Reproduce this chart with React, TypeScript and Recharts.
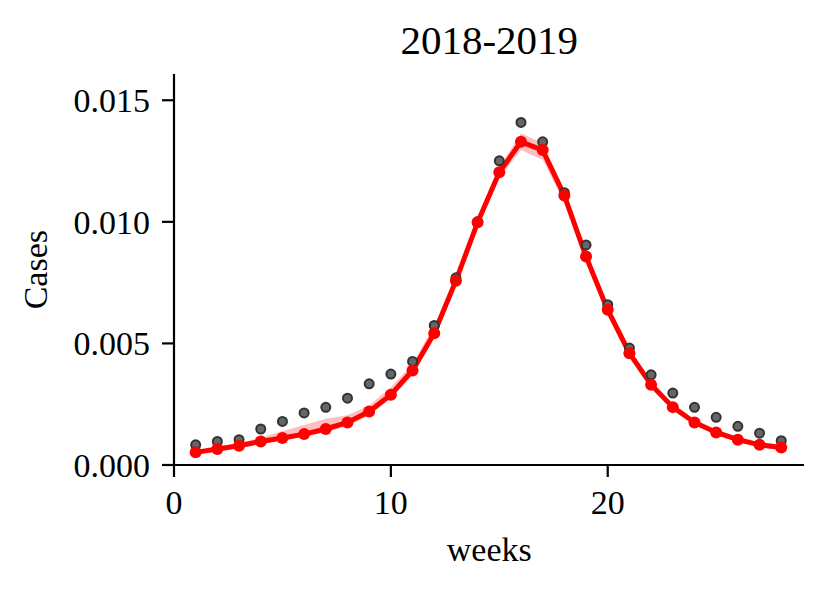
import React from 'react';
import { ComposedChart, Line, Area, XAxis, YAxis } from 'recharts';

const weeks = [1, 2, 3, 4, 5, 6, 7, 8, 9, 10, 11, 12, 13, 14, 15, 16, 17, 18, 19, 20, 21, 22, 23, 24, 25, 26, 27, 28];

const observed = [
  0.00083, 0.00097, 0.00104, 0.00148, 0.00179, 0.00214, 0.00237, 0.00275, 0.00334, 0.00374,
  0.00426, 0.00574, 0.0077, 0.0100, 0.01251, 0.01409, 0.01329, 0.0112, 0.00905, 0.00659,
  0.00481, 0.00371, 0.00296, 0.00237, 0.00196, 0.00159, 0.00131, 0.00100,
];

const model = [
  0.00052, 0.00066, 0.00079, 0.00097, 0.00111, 0.00127, 0.00148, 0.00175, 0.0022, 0.00289,
  0.00389, 0.00542, 0.00758, 0.00998, 0.01204, 0.01329, 0.01295, 0.01108, 0.00857, 0.00638,
  0.0046, 0.0033, 0.00238, 0.00175, 0.00134, 0.00104, 0.00083, 0.00072,
];

const bandLower = [
  0.00044, 0.00058, 0.0007, 0.00088, 0.001, 0.00115, 0.00135, 0.0016, 0.00205, 0.00272,
  0.0037, 0.0052, 0.00735, 0.00975, 0.0118, 0.01295, 0.01254, 0.0108, 0.00835, 0.0062,
  0.00445, 0.00318, 0.00228, 0.00165, 0.00125, 0.00096, 0.00076, 0.00065,
];

const bandUpper = [
  0.0006, 0.00074, 0.0009, 0.00112, 0.0014, 0.00165, 0.0019, 0.00205, 0.00245, 0.0032,
  0.00415, 0.00575, 0.0078, 0.0102, 0.01225, 0.01364, 0.01323, 0.0113, 0.0088, 0.0066,
  0.00478, 0.00345, 0.00252, 0.00188, 0.00146, 0.00116, 0.00094, 0.00082,
];

const xTicks = [0, 10, 20];
const yTicks = [0, 0.005, 0.01, 0.015];

const title = '2018-2019';
const xLabel = 'weeks';
const yLabel = 'Cases';

const data = weeks.map((w, i) => ({
  week: w,
  observed: observed[i],
  model: model[i],
  band: [bandLower[i], bandUpper[i]],
}));

const FONT = '"Liberation Serif", "Times New Roman", serif';

export default function App() {
  const tickStyle = { fill: '#000', fontSize: 34, fontFamily: FONT };
  const axisStroke = { stroke: '#000', strokeWidth: 2.2 };
  return (
    <div style={{ position: 'absolute', left: 0, top: 0, width: 829, height: 592, background: '#fff' }}>
      <ComposedChart width={829} height={592} data={data} margin={{ top: 74, right: 25, bottom: 0, left: 0 }}>
        <XAxis
          dataKey="week"
          type="number"
          domain={[0, 29.05]}
          ticks={xTicks}
          height={127}
          tickSize={12}
          tickMargin={13}
          axisLine={axisStroke}
          tickLine={axisStroke}
          tick={tickStyle}
        />
        <YAxis
          type="number"
          domain={[0, 0.01608]}
          ticks={yTicks}
          width={174}
          tickSize={12}
          tickMargin={12}
          tickFormatter={(v: number) => v.toFixed(3)}
          axisLine={axisStroke}
          tickLine={axisStroke}
          tick={tickStyle}
        />
        <Line
          dataKey="observed"
          type="linear"
          stroke="none"
          dot={{ r: 4.5, fill: '#666', stroke: '#333', strokeWidth: 2, fillOpacity: 1 }}
          activeDot={false}
          isAnimationActive={false}
        />
        <Area
          dataKey="band"
          type="linear"
          stroke="none"
          fill="#ff0000"
          fillOpacity={0.25}
          activeDot={false}
          isAnimationActive={false}
        />
        <Line
          dataKey="model"
          type="linear"
          stroke="#ff0000"
          strokeWidth={5}
          dot={{ r: 6, fill: '#ff0000', stroke: 'none' }}
          activeDot={false}
          isAnimationActive={false}
        />
      </ComposedChart>
      <svg
        width={829}
        height={592}
        style={{ position: 'absolute', left: 0, top: 0, pointerEvents: 'none' }}
      >
        <text x={489.3} y={54.3} textAnchor="middle" fontSize={41} fontFamily={FONT} fill="#000">
          {title}
        </text>
        <text x={489.3} y={560.5} textAnchor="middle" fontSize={34} fontFamily={FONT} fill="#000">
          {xLabel}
        </text>
        <text
          x={47}
          y={269.7}
          textAnchor="middle"
          fontSize={34}
          fontFamily={FONT}
          fill="#000"
          transform="rotate(-90, 47, 269.7)"
        >
          {yLabel}
        </text>
      </svg>
    </div>
  );
}
